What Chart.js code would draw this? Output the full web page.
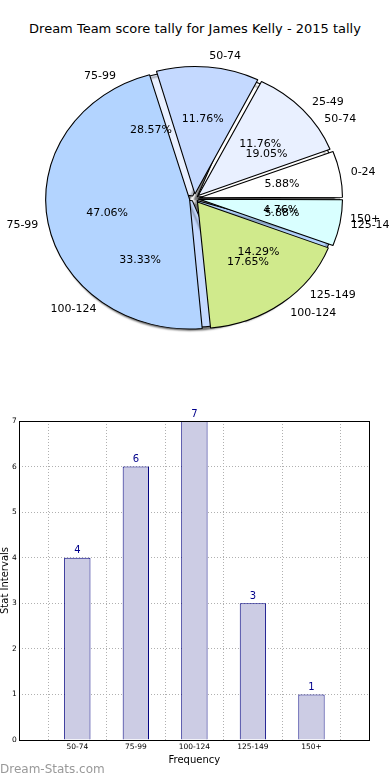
<!DOCTYPE html>
<html>
<head>
<meta charset="utf-8">
<script src="https://cdn.jsdelivr.net/npm/chart.js@4"></script>
<style>
  body { margin: 0; width: 390px; height: 780px; background: #fff; position: relative; overflow: hidden; font-family: "DejaVu Sans", sans-serif; }
  #title { position: absolute; top: 21px; left: 0; width: 390px; text-align: center; font-size: 13px; color: #000; }
  .pie { position: absolute; left: 0; top: 0; width: 390px; height: 400px; }
  #barWrap { position: absolute; left: 0; top: 400px; width: 390px; height: 380px; }
  #mark { position: absolute; left: 0; top: 762px; font-size: 12px; color: #999; }
</style>
</head>
<body>
<div id="title">Dream Team score tally for James Kelly - 2015 tally</div>
<div class="pie"><canvas id="pieB" width="390" height="400"></canvas></div>
<div class="pie"><canvas id="pieA" width="390" height="400"></canvas></div>
<div id="barWrap"><canvas id="bars" width="390" height="380"></canvas></div>
<div id="mark">Dream-Stats.com</div>
<script>
// pie A: 17 scores
const pieALabels = ["0-24", "25-49", "50-74", "75-99", "100-124", "125-149"];
const pieAValues = [1, 2, 2, 8, 3, 1];
// pie B: 21 scores (same as the bar chart)
const pieBLabels = ["50-74", "75-99", "100-124", "125-149", "150+"];
const pieBValues = [4, 6, 7, 3, 1];
const sliceColors = ["#ffffff", "#e9f0ff", "#c4d9ff", "#b3d4ff", "#d0ea8c", "#d9ffff"];

// bar chart
const barCats = ["50-74", "75-99", "100-124", "125-149", "150+"];
const barValues = [4, 6, 7, 3, 1];
const yTicks = [0, 1, 2, 3, 4, 5, 6, 7];

const STRETCH = 1.11; // pie is a bit wider than tall

// matplotlib goes counter-clockwise from 3 o'clock, chart.js clockwise,
// so feed the slices reversed and start at 90deg
function rev(a) { return a.slice().reverse(); }

function ellipsePlugin(shadow) {
  return {
    id: "ellipse",
    beforeDatasetsDraw(chart) {
      const arc = chart.getDatasetMeta(0).data[0];
      const ctx = chart.ctx;
      ctx.save();
      ctx.translate(arc.x, arc.y);
      ctx.scale(STRETCH, 1);
      ctx.translate(-arc.x, -arc.y);
      if (shadow) {
        ctx.shadowColor = "rgba(0,0,0,0.55)";
        ctx.shadowOffsetX = -3;
        ctx.shadowOffsetY = 3;
        ctx.shadowBlur = 2;
      }
    },
    afterDatasetsDraw(chart) {
      chart.ctx.restore();
    }
  };
}

// draws the labels of a pie chart onto ctx (used for both pies, on the top canvas)
function drawPieLabels(chart, ctx) {
  const ds = chart.data.datasets[0];
  const meta = chart.getDatasetMeta(0);
  const total = ds.data.reduce((s, v) => s + v, 0);
  ctx.save();
  ctx.font = "11px 'DejaVu Sans'";
  ctx.fillStyle = "#000";
  ctx.textBaseline = "middle";
  meta.data.forEach((arc, i) => {
    const mid = (arc.startAngle + arc.endAngle) / 2;
    const r = arc.outerRadius;
    const off = (ds.offset || 0) / 4; // arc element moves by offset/4
    const c = Math.cos(mid), s = Math.sin(mid);
    const cx = arc.x + c * off * STRETCH;
    const cy = arc.y + s * off;
    ctx.textAlign = "center";
    ctx.fillText((ds.data[i] / total * 100).toFixed(2) + "%", cx + c * r * 0.6 * STRETCH, cy + s * r * 0.6);
    ctx.textAlign = c >= 0 ? "left" : "right";
    ctx.fillText(chart.data.labels[i], cx + c * r * 1.1 * STRETCH, cy + s * r * 1.1);
  });
  ctx.restore();
}

let chartB = null;
const pieLabelPlugin = {
  id: "pieLabels",
  afterDraw(chart) {
    if (chartB) drawPieLabels(chartB, chart.ctx);
    drawPieLabels(chart, chart.ctx);
  }
};

function pieConfig(labels, values, offset, pad, shadow, withLabels) {
  return {
    type: "pie",
    data: {
      labels: rev(labels),
      datasets: [{
        data: rev(values),
        backgroundColor: rev(sliceColors.slice(0, values.length)),
        borderColor: "#000",
        borderWidth: 1,
        offset: offset
      }]
    },
    options: {
      responsive: false,
      animation: false,
      rotation: 90,
      layout: { padding: pad },
      plugins: { legend: { display: false }, tooltip: { enabled: false } }
    },
    plugins: withLabels ? [ellipsePlugin(shadow), pieLabelPlugin] : [ellipsePlugin(shadow)]
  };
}

chartB = new Chart(document.getElementById("pieB"),
  pieConfig(pieBLabels, pieBValues, 12, { left: 62, right: 63, top: 66, bottom: 69 }, true, false));
new Chart(document.getElementById("pieA"),
  pieConfig(pieALabels, pieAValues, 18, { left: 59, right: 60, top: 63, bottom: 66 }, false, true));

// box around plot + value labels
const barExtras = {
  id: "barExtras",
  afterDraw(chart) {
    const ctx = chart.ctx;
    const a = chart.chartArea;
    ctx.save();
    ctx.strokeStyle = "#000";
    ctx.lineWidth = 1;
    ctx.strokeRect(Math.round(a.left) + 0.5, Math.round(a.top) + 0.5, Math.round(a.right - a.left) - 1, Math.round(a.bottom - a.top));
    ctx.fillStyle = "#00008b";
    ctx.font = "10px 'DejaVu Sans'";
    ctx.textAlign = "center";
    ctx.textBaseline = "bottom";
    chart.getDatasetMeta(0).data.forEach((bar, i) => {
      ctx.fillText(String(barValues[i]), bar.x, bar.y - 2);
    });
    ctx.restore();
  }
};

new Chart(document.getElementById("bars"), {
  type: "bar",
  data: {
    datasets: [{
      data: barValues.map((v, i) => ({ x: i, y: v })),
      backgroundColor: "rgba(204,204,228,1)",
      borderColor: "#000080",
      borderWidth: 1,
      barPercentage: 0.45,
      categoryPercentage: 1
    }]
  },
  options: {
    responsive: false,
    animation: false,
    layout: { padding: { top: 21, right: 20, bottom: 14, left: 0 } },
    plugins: { legend: { display: false }, tooltip: { enabled: false } },
    scales: {
      x: {
        type: "linear",
        offset: false,
        min: -1,
        max: 5,
        grid: { color: "#b0b0b0", lineWidth: 1, drawTicks: false },
        border: { display: false, dash: [1, 2] },
        ticks: {
          stepSize: 1,
          autoSkip: false,
          maxRotation: 0,
          padding: 3,
          color: "#000",
          font: { family: "DejaVu Sans", size: 7.5 },
          callback: (v) => barCats[v] || ""
        },
        title: { display: true, text: "Frequency", color: "#000", font: { family: "DejaVu Sans", size: 10, lineHeight: 1.1 }, padding: 0 }
      },
      y: {
        min: 0,
        max: 7,
        grid: { color: "#b0b0b0", lineWidth: 1, drawTicks: false },
        border: { display: false, dash: [1, 2] },
        afterBuildTicks: (axis) => { axis.ticks = yTicks.map((v) => ({ value: v })); },
        ticks: {
          padding: 2,
          color: "#000",
          font: { family: "DejaVu Sans", size: 7.5 }
        },
        title: { display: true, text: "Stat Intervals", color: "#000", font: { family: "DejaVu Sans", size: 10, lineHeight: 1 }, padding: 0 }
      }
    }
  },
  plugins: [barExtras]
});
</script>
</body>
</html>
